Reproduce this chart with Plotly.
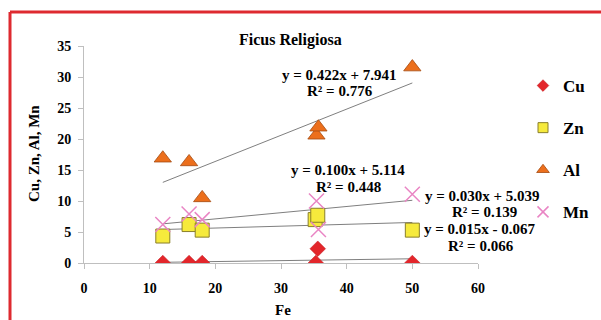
import numpy as np
import plotly.graph_objects as go

# ---- data ----
cu_x = [12, 16, 18, 35.3, 35.6, 50]
cu_y = [0, 0, 0, 0, 2.3, 0]
zn_x = [12, 16, 18, 35.2, 35.6, 50]
zn_y = [4.35, 6.2, 5.3, 7.0, 7.7, 5.3]
al_x = [12, 16, 18, 35.4, 35.7, 50]
al_y = [16.9, 16.3, 10.5, 20.6, 21.9, 31.6]
mn_x = [12, 16, 18, 35.4, 35.7, 50]
mn_y = [6.2, 7.9, 7.0, 10.0, 5.4, 11.1]

series_names = ["Cu", "Zn", "Al", "Mn"]
fit_slopes = [0.015, 0.030, 0.422, 0.100]
fit_intercepts = [-0.067, 5.039, 7.941, 5.114]
fit_r2 = [0.066, 0.139, 0.776, 0.448]
fit_range = [12, 50]

x_ticks = [0, 10, 20, 30, 40, 50, 60]
y_ticks = [0, 5, 10, 15, 20, 25, 30, 35]

# ---- layout helpers (pixel geometry of plot area) ----
L, R, T, B = 84, 478, 46, 263
W, H = 601, 320


def px(xp):
    return (xp - L) / (R - L)


def py(yp):
    return (B - yp) / (B - T)


SERIF = "Liberation Serif"
fig = go.Figure()

# trendlines
fx = np.array(fit_range, dtype=float)
for m, b in zip(fit_slopes, fit_intercepts):
    fig.add_trace(go.Scatter(x=fx, y=m * fx + b, mode="lines",
                             line=dict(color="#7f7f7f", width=1),
                             showlegend=False, hoverinfo="skip"))

styles = {
    "Cu": dict(symbol="diamond", size=12, color="#e3262b", line=dict(color="#c0181d", width=0.5)),
    "Zn": dict(symbol="square", size=14, color="#f6ea3c", line=dict(color="#8a7f2a", width=1)),
    "Al": dict(symbol="triangle-up", size=15, color="#ec6f1c", line=dict(color="#a34a10", width=0.8)),
    "Mn": dict(symbol="x-thin-open", size=15, color="#e985c4", line=dict(color="#e985c4", width=1.5)),
}
legend_sizes = {"Cu": 9, "Zn": 10, "Al": 11, "Mn": 11}
series_xy = {"Cu": (cu_x, cu_y), "Zn": (zn_x, zn_y), "Al": (al_x, al_y), "Mn": (mn_x, mn_y)}

for name in series_names:
    xs, ys = series_xy[name]
    fig.add_trace(go.Scatter(x=xs, y=ys, mode="markers", name=name, legendgroup=name,
                             showlegend=False, marker=styles[name]))
for name in series_names:
    st = dict(styles[name])
    st["size"] = legend_sizes[name]
    fig.add_trace(go.Scatter(x=[None], y=[None], mode="markers", name=name, legendgroup=name,
                             showlegend=True, marker=st))

# equation labels - pixel centers
eq_pos = {
    "Al": [(339, 75), (340, 91)],
    "Mn": [(348, 170), (348, 187)],
    "Zn": [(482, 196), (484, 212)],
    "Cu": [(480, 229), (481, 246)],
}
annotations = []
for name, m, b, r2 in zip(series_names, fit_slopes, fit_intercepts, fit_r2):
    if b >= 0:
        line1 = f"y = {m:.3f}x + {b:.3f}"
    else:
        line1 = f"y = {m:.3f}x - {abs(b):.3f}"
    line2 = f"R² = {r2:.3f}"
    (x1, y1), (x2, y2) = eq_pos[name]
    for txt, xx, yy in [(line1, x1, y1), (line2, x2, y2)]:
        annotations.append(dict(text=txt, xref="paper", yref="paper",
                                x=px(xx), y=py(yy), xanchor="center", yanchor="middle",
                                showarrow=False,
                                font=dict(family=SERIF, size=15, color="black", weight="bold")))

# axis titles & chart title
annotations.append(dict(text="Ficus Religiosa", xref="paper", yref="paper",
                        x=px(290), y=py(40), xanchor="center", yanchor="middle", showarrow=False,
                        font=dict(family=SERIF, size=16, color="black", weight="bold")))
annotations.append(dict(text="Fe", xref="paper", yref="paper",
                        x=px(283), y=py(310), xanchor="center", yanchor="middle", showarrow=False,
                        font=dict(family=SERIF, size=15, color="black", weight="bold")))
annotations.append(dict(text="Cu, Zn, Al, Mn", xref="paper", yref="paper", textangle=-90,
                        x=px(34), y=py(154), xanchor="center", yanchor="middle", showarrow=False,
                        font=dict(family=SERIF, size=15, color="black", weight="bold")))

axis_common = dict(showgrid=False, zeroline=False, showline=True, linecolor="#bfbfbf",
                   linewidth=1, ticks="outside", ticklen=5, tickcolor="#bfbfbf",
                   tickfont=dict(family=SERIF, size=14, color="black", weight="bold"))

fig.update_layout(
    width=W, height=H,
    margin=dict(l=L, r=W - R, t=T, b=H - B, pad=0, autoexpand=False),
    paper_bgcolor="white", plot_bgcolor="white",
    xaxis=dict(range=[0, 60], tickvals=x_ticks, ticklabelstandoff=7, **axis_common),
    yaxis=dict(range=[0, 35], tickvals=y_ticks, ticklabelstandoff=4, **axis_common),
    annotations=annotations,
    showlegend=True,
    legend=dict(x=px(523), y=py(68), xanchor="left", yanchor="top",
                font=dict(family=SERIF, size=17, color="black", weight="bold"),
                tracegroupgap=17, itemsizing="trace", bgcolor="rgba(0,0,0,0)"),
    shapes=[
        dict(type="line", xref="paper", yref="paper",
             x0=px(10), x1=px(620), y0=py(12), y1=py(12),
             line=dict(color="#de2a30", width=3), layer="above"),
        dict(type="line", xref="paper", yref="paper",
             x0=px(10), x1=px(10), y0=py(12), y1=py(340),
             line=dict(color="#de2a30", width=3), layer="above"),
    ],
)

fig.write_html("out.html", config={"displayModeBar": False},
               post_script="document.body.style.margin='0';")
